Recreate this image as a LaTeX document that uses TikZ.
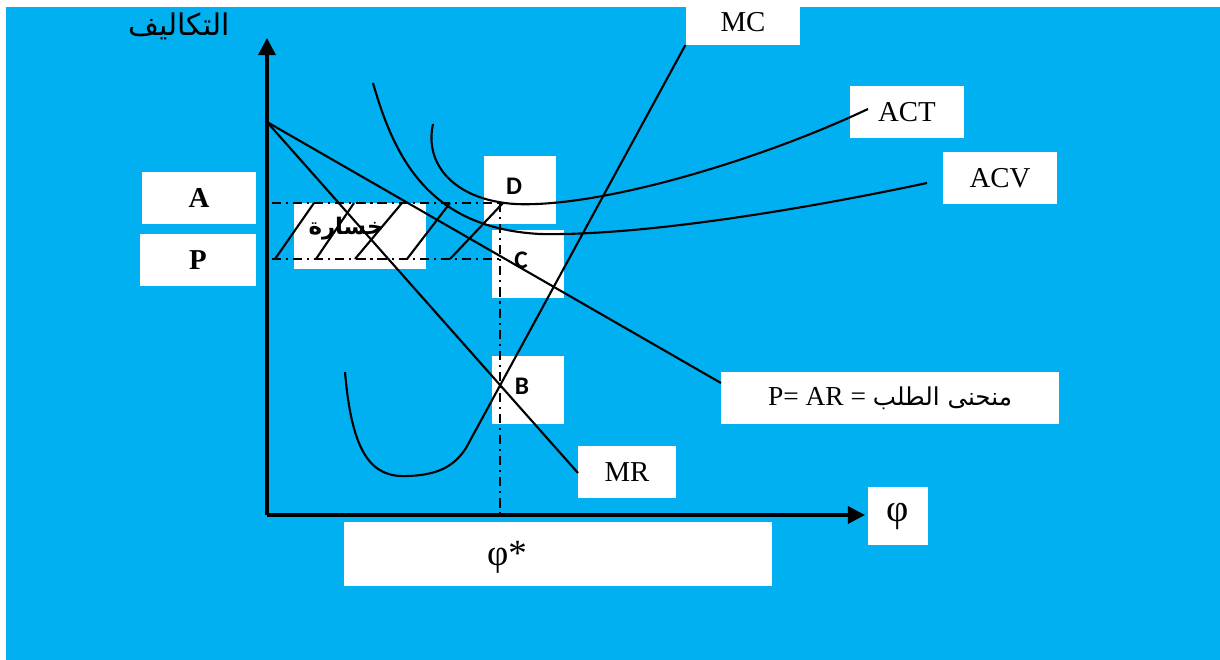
\documentclass[tikz,border=0pt]{standalone}
\usepackage{fontspec}
\setmainfont{Liberation Serif}
\newfontfamily\arabicfont[Script=Arabic]{DejaVu Sans}
\newfontfamily\calibrifont{Carlito}
\usetikzlibrary{arrows.meta}
\TeXXeTstate=1
\definecolor{skyblue}{RGB}{0,176,240}

\begin{document}
\begin{tikzpicture}[x=0.01cm, y=-0.01cm,
		whitebox/.style={fill=white, inner sep=0pt, font=\fontsize{8.2}{10}\selectfont},
		pointlbl/.style={inner sep=0pt, font=\calibrifont\bfseries\fontsize{7.2}{9}\selectfont},
		curve/.style={line width=0.6pt},
		axis/.style={line width=0.9pt, -{Triangle[length=1.7mm, width=1.7mm]}},
		guide/.style={line width=0.6pt, dash pattern=on 2.6pt off 1.4pt on 0.6pt off 1.4pt}]

		% fond
		\useasboundingbox ( 0, 0 ) rectangle ( 1220, 660 );
		\fill [skyblue] ( 6, 7 ) rectangle ( 1220, 660 );

		% cases blanches
		\node [whitebox, minimum width=1.14cm, minimum height=0.45cm] (mc)  at ( 743, 22 )  {MC};
		\node [whitebox, minimum width=1.13cm, minimum height=0.52cm] (act) at ( 907, 112 ) {ACT};
		\node [whitebox, minimum width=1.13cm, minimum height=0.52cm] (acv) at ( 1000, 178 ) {ACV};
		\node [whitebox, minimum width=1.14cm, minimum height=0.52cm, font=\bfseries\fontsize{8.2}{10}\selectfont] (a) at ( 199, 198 ) {A};
		\node [whitebox, minimum width=1.16cm, minimum height=0.52cm, font=\bfseries\fontsize{8.2}{10}\selectfont] (p) at ( 198, 260 ) {P};
		\node [whitebox, minimum width=0.98cm, minimum height=0.51cm] (mr)  at ( 627, 472 ) {MR};
		\node [whitebox, minimum width=3.37cm, minimum height=0.52cm, font=\fontsize{7.8}{10}\selectfont] (dem) at ( 890, 398 )
			{P= AR = {\arabicfont\fontsize{7}{9}\selectfont\beginR منحنى الطلب\endR}};
		\node [whitebox, minimum width=0.59cm, minimum height=0.57cm, font=\fontsize{11}{13}\selectfont] (phi) at ( 898, 516 ) {φ};
		\node [whitebox, minimum width=4.28cm, minimum height=0.64cm] (qbox) at ( 558, 554 ) {};
		\node [font=\fontsize{10.5}{12}\selectfont, inner sep=0pt] (qstar) at ( 507, 557 ) {φ*};
		\node [whitebox, minimum width=1.31cm, minimum height=0.66cm] (lossbox) at ( 360, 236 ) {};
		\node [inner sep=0pt, font=\arabicfont\bfseries\fontsize{6.5}{8}\selectfont] (loss) at ( 346, 229 ) {\beginR خسارة\endR};
		\node [whitebox, minimum width=0.71cm, minimum height=0.67cm] (dbox) at ( 520, 190 ) {};
		\node [whitebox, minimum width=0.71cm, minimum height=0.67cm] (cbox) at ( 528, 264 ) {};
		\node [whitebox, minimum width=0.71cm, minimum height=0.67cm] (bbox) at ( 528, 390 ) {};
		\node [pointlbl] (dlbl) at ( 514, 186 ) {D};
		\node [pointlbl] (clbl) at ( 521, 260 ) {C};
		\node [pointlbl] (blbl) at ( 522, 386 ) {B};
		\node [inner sep=0pt, font=\arabicfont\fontsize{8.5}{10}\selectfont] (cost) at ( 179, 26 ) {\beginR التكاليف\endR};

		% points
		\coordinate (O)    at ( 267, 515 );
		\coordinate (ytop) at ( 267, 38 );
		\coordinate (xend) at ( 865, 515 );
		\coordinate (Y0)   at ( 267, 122 );
		\coordinate (D)    at ( 500, 203 );
		\coordinate (C)    at ( 500, 259 );
		\coordinate (Q)    at ( 500, 515 );
		\coordinate (Dl)   at ( 272, 203 );
		\coordinate (Cl)   at ( 272, 259 );
		\coordinate (actend) at ( 868, 109 );
		\coordinate (acvend) at ( 927, 183 );
		\coordinate (demend) at ( 721, 383 );
		\coordinate (mrend)  at ( 578, 473 );

		% axes
		\draw [axis] (O) -- (ytop);
		\draw [axis] (O) -- (xend);

		% lignes pointillees
		\draw [guide] (Dl) -- (D);
		\draw [guide] (Cl) -- (C);
		\draw [guide] (D) -- (Q);

		% hachures
		\foreach \xb/\xt in {275/314, 316/354, 355/402, 407/450, 450/503}
			\draw [curve] ( \xb, 259 ) -- ( \xt, 203 );

		% demande et recette marginale
		\draw [curve] (Y0) -- (demend);
		\draw [curve] (Y0) -- (mrend);

		% couts
		\draw [curve] ( 433, 124 ) .. controls ( 424, 165 ) and ( 455, 200 ) .. ( 515, 204 )
			.. controls ( 600, 208 ) and ( 760, 160 ) .. (actend);
		\draw [curve] ( 373, 83 ) .. controls ( 395, 160 ) and ( 430, 228 ) .. ( 540, 234 )
			.. controls ( 640, 236 ) and ( 800, 210 ) .. (acvend);
		\draw [curve] ( 345, 372 ) .. controls ( 352, 455 ) and ( 372, 478 ) .. ( 408, 476 )
			.. controls ( 432, 475 ) and ( 452, 470 ) .. ( 466, 448 ) -- (mc.south west);
\end{tikzpicture}
\end{document}
